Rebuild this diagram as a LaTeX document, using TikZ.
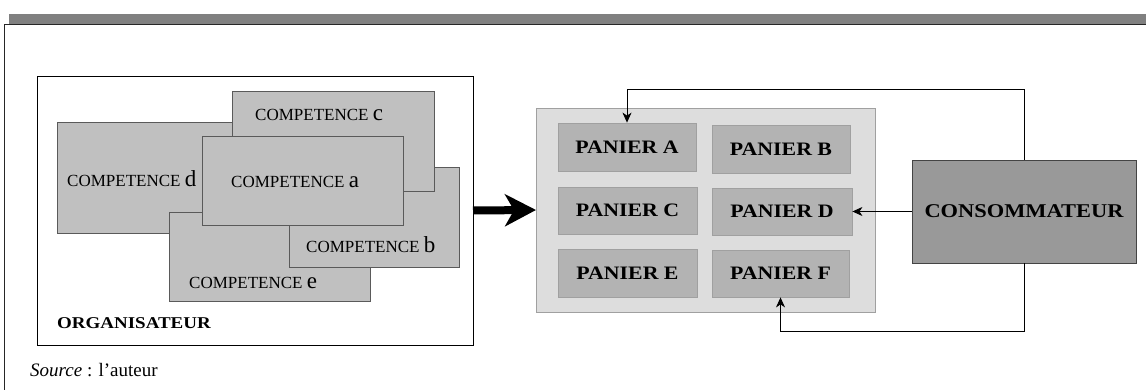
\documentclass[tikz,border=0pt]{standalone}
\usepackage{fontspec}
\setmainfont{Liberation Serif}
\newfontfamily\wideserif[FakeStretch=1.15]{Liberation Serif}
\usetikzlibrary{arrows.meta}
\definecolor{barg}{HTML}{808080}
\definecolor{compfill}{HTML}{C0C0C0}
\definecolor{compline}{HTML}{5A5A5A}
\definecolor{panelfill}{HTML}{DDDDDD}
\definecolor{panelline}{HTML}{A0A0A0}
\definecolor{panfill}{HTML}{B3B3B3}
\definecolor{consfill}{HTML}{999999}
\definecolor{consline}{HTML}{444444}
\tikzset{
  box/.style={anchor=north west, inner sep=0pt, outer sep=0pt},
  comp/.style={box, draw=compline, fill=compfill, line width=0.8pt},
  comptext/.style={anchor=base west, inner sep=0pt, font=\fontsize{17}{17}\selectfont},
  panier/.style={draw=panelline, fill=panfill, line width=0.8pt, inner sep=0pt,
    font=\wideserif\bfseries\fontsize{19}{19}\selectfont},
  conn/.style={draw=black, line width=0.8pt, -{Stealth[length=10pt,width=9pt,inset=3pt]}},
}
\newcommand{\lett}[1]{{\fontsize{23}{23}\selectfont #1}}
\begin{document}
\begin{tikzpicture}[x=1pt,y=-1pt]
\useasboundingbox (0,0) rectangle (1146,390);
% frame
\fill[barg] (9,14) rectangle (1146,24);
\draw[line width=1pt, black!85] (4.5,390) -- (4.5,25) -- (1146,25);
% organisateur box
\node[box, draw=black, line width=0.9pt, minimum width=436pt, minimum height=269pt] (org) at (37,76) {};
\node[comp, minimum width=202pt, minimum height=111pt] (cd) at (57,122) {};
\node[comp, minimum width=201pt, minimum height=89pt] (ce) at (169,212) {};
\node[comp, minimum width=170pt, minimum height=100pt] (cb) at (289,167) {};
\node[comp, minimum width=202pt, minimum height=100pt] (cc) at (232,91) {};
\node[comp, minimum width=201pt, minimum height=89pt] (ca) at (202,136) {};
\node[comptext] (td) at (67,187) {COMPETENCE \lett{d}};
\node[comptext] (tc) at (255,121) {COMPETENCE \lett{c}};
\node[comptext] (ta) at (231,188) {COMPETENCE \lett{a}};
\node[comptext] (tb) at (306,252) {COMPETENCE \lett{b}};
\node[comptext] (te) at (189,288) {COMPETENCE \lett{e}};
\node[anchor=base west, inner sep=0pt, font=\wideserif\bfseries\fontsize{16.5}{16.5}\selectfont] (torg) at (57,328) {ORGANISATEUR};
% panel
\node[box, draw=panelline, fill=panelfill, line width=0.8pt, minimum width=339pt, minimum height=204pt] (panel) at (536,108) {};
\node[panier, minimum width=138pt, minimum height=48pt] (pa) at (627,147) {PANIER A};
\node[panier, minimum width=138pt, minimum height=48pt] (pb) at (781,149) {PANIER B};
\node[panier, minimum width=139pt, minimum height=47pt] (pc) at (627.5,210.5) {PANIER C};
\node[panier, minimum width=140pt, minimum height=47pt] (pd) at (782,211.5) {PANIER D};
\node[panier, minimum width=139pt, minimum height=48pt] (pe) at (627.5,273) {PANIER E};
\node[panier, minimum width=137pt, minimum height=47pt] (pf) at (780.5,273.5) {PANIER F};
% consommateur
\node[draw=consline, fill=consfill, line width=0.9pt, inner sep=0pt, minimum width=224pt, minimum height=103pt,
  font=\wideserif\bfseries\fontsize{19.5}{19.5}\selectfont] (cons) at (1024,211.5) {CONSOMMATEUR};
% connectors
\draw[line width=8pt, -{Stealth[length=31pt,width=32pt,inset=9pt]}] (org.east) -- (panel.west);
\draw[conn] (cons.north) -- ++(0,-70) -| (pa.north);
\draw[conn] (cons.south) -- ++(0,68) -| (pf.south);
\draw[conn] (cons.west) -- (pd.east);
% source
\node[anchor=base west, inner sep=0pt, font=\fontsize{19}{19}\selectfont] (src) at (30,376) {\textit{Source} : l’auteur};
\end{tikzpicture}
\end{document}
